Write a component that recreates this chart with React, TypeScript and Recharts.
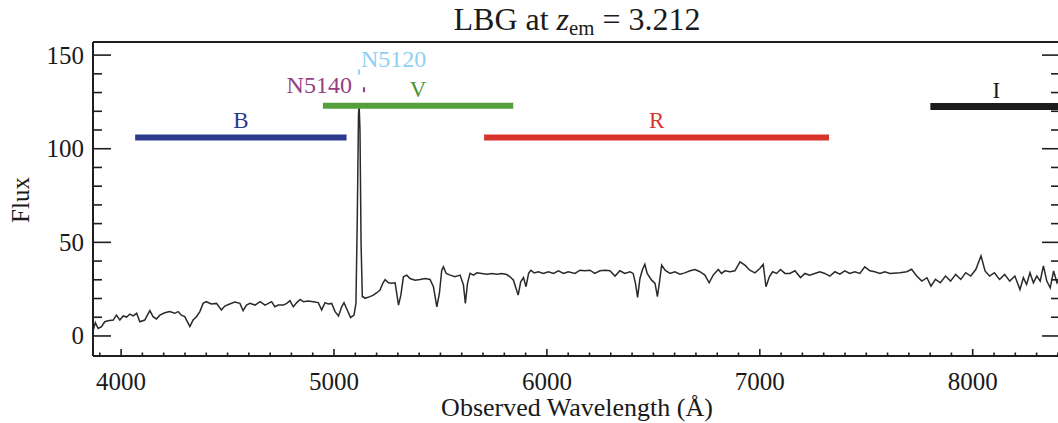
import React from "react";
import { ComposedChart, Line, XAxis, YAxis, ReferenceLine } from "recharts";

// ── Data ─────────────────────────────────────────────────────────────────────

// observed wavelength (Å) and flux of the LBG spectrum
const wavelength = [
  3869, 3879, 3892, 3908, 3923, 3939, 3963, 3978, 3994, 4010, 4026, 4041, 4057, 4073, 4088,
  4111, 4135, 4150, 4166, 4182, 4205, 4228, 4252, 4268, 4283, 4299, 4323, 4338, 4354, 4370,
  4385, 4400, 4424, 4448, 4471, 4487, 4510, 4534, 4558, 4573, 4589, 4605, 4629, 4653, 4676,
  4692, 4707, 4722, 4738, 4762, 4778, 4793, 4809, 4825, 4841, 4856, 4879, 4903, 4926, 4942,
  4958, 4973, 4989, 5005, 5021, 5036, 5047, 5062, 5078, 5094, 5103, 5109, 5115, 5118, 5122,
  5127, 5133, 5138, 5145, 5169, 5185, 5201, 5216, 5229, 5240, 5256, 5271, 5287, 5303, 5314,
  5326, 5342, 5357, 5381, 5404, 5428, 5451, 5467, 5483, 5495, 5506, 5514, 5527, 5546, 5568,
  5592, 5608, 5617, 5627, 5639, 5655, 5671, 5694, 5718, 5741, 5765, 5788, 5811, 5827, 5843,
  5855, 5865, 5877, 5890, 5902, 5914, 5925, 5940, 5960, 5983, 6007, 6031, 6054, 6078, 6100,
  6132, 6155, 6179, 6202, 6225, 6249, 6273, 6296, 6320, 6343, 6366, 6390, 6405, 6416, 6426,
  6437, 6449, 6460, 6471, 6492, 6508, 6519, 6528, 6539, 6555, 6578, 6601, 6625, 6648, 6672,
  6696, 6719, 6742, 6762, 6781, 6805, 6820, 6836, 6860, 6883, 6907, 6930, 6953, 6977, 7000,
  7016, 7029, 7045, 7060, 7079, 7097, 7118, 7141, 7165, 7191, 7212, 7234, 7258, 7282, 7305,
  7329, 7353, 7376, 7399, 7423, 7446, 7470, 7493, 7517, 7540, 7564, 7587, 7611, 7658, 7690,
  7713, 7737, 7761, 7785, 7804, 7825, 7848, 7872, 7896, 7920, 7944, 7967, 7991, 8015, 8039,
  8058, 8079, 8102, 8126, 8150, 8174, 8198, 8222, 8238, 8253, 8269, 8285, 8301, 8317, 8332,
  8348, 8364, 8380, 8396, 8410,
];

const flux = [
  3.0, 7.1, 4.0, 5.0, 7.6, 8.1, 8.5, 11.1, 8.5, 10.7, 10.1, 11.7, 10.7, 12.1, 7.6,
  8.5, 13.5, 10.3, 9.1, 11.1, 12.4, 13.0, 12.1, 13.0, 11.1, 10.3, 5.0, 8.5, 10.3, 13.0,
  17.4, 18.3, 17.1, 17.4, 13.9, 16.0, 17.1, 18.1, 17.4, 13.5, 16.5, 17.4, 16.5, 18.3, 16.5,
  17.4, 18.3, 15.6, 16.5, 16.5, 17.4, 18.8, 15.6, 17.8, 19.5, 18.3, 18.7, 18.3, 17.8, 13.9,
  17.8, 17.1, 17.4, 13.0, 10.7, 15.6, 17.8, 13.9, 9.8, 11.2, 17.4, 60, 118, 123, 110,
  50, 21, 21, 20.1, 21, 21.8, 23.1, 24.5, 28.1, 30.1, 28.4, 28.1, 28.4, 16.5, 21.8,
  31.6, 32.5, 30.7, 29.8, 30.2, 30.7, 30.2, 26.3, 15.6, 22.7, 35.1, 36.9, 33.4, 32.5, 31.6,
  32.5, 27.2, 17.4, 28.1, 33.4, 32.5, 33.7, 33.4, 33.0, 33.4, 33.0, 33.4, 32.8, 31.6, 29.8,
  25.4, 21.8, 28.9, 31.2, 26.3, 33.4, 35.1, 33.7, 34.3, 33.4, 34.3, 33.4, 34.8, 33.4, 34.3,
  33.4, 35.1, 34.8, 35.1, 33.4, 34.8, 35.1, 34.8, 32.0, 34.8, 33.4, 34.3, 33.4, 28.1, 20.6,
  30.7, 35.5, 38.3, 33.4, 29.8, 28.1, 21.0, 28.1, 37.8, 35.1, 33.4, 34.3, 33.0, 33.7, 34.8,
  35.5, 34.3, 32.5, 28.4, 32.5, 35.5, 33.4, 34.8, 34.3, 34.8, 39.6, 37.8, 35.1, 33.7, 36.0,
  38.3, 26.3, 31.6, 34.3, 33.4, 35.5, 33.4, 33.4, 34.8, 31.2, 33.4, 32.5, 33.4, 34.3, 33.4,
  32.0, 34.3, 33.0, 34.8, 33.4, 34.3, 33.4, 36.9, 34.8, 34.3, 33.4, 34.3, 33.4, 33.8, 34.3,
  35.6, 32.0, 29.3, 31.1, 26.6, 30.2, 28.4, 32.0, 29.3, 32.9, 30.2, 33.8, 32.0, 35.6, 42.8,
  34.7, 32.0, 33.8, 30.2, 32.9, 29.3, 32.0, 24.8, 31.1, 27.5, 33.8, 28.4, 32.0, 29.3, 37.4,
  29.3, 25.7, 34.7, 28.4, 31.0,
];

// filter bandpasses drawn above the spectrum
const filterNames = ["B", "V", "R", "I", "N5140", "N5120"];
const filterStart = [4066, 4948, 5705, 7801, 5136, 5113];
const filterEnd = [5059, 5842, 7325, 8420, 5146, 5122];
const filterLevel = [106, 123, 106, 122.5, 131.5, 141];

const xMajorTicks = [4000, 5000, 6000, 7000, 8000];
const yMajorTicks = [0, 50, 100, 150];

// ── Styles ───────────────────────────────────────────────────────────────────

const FONT = "'Liberation Serif', 'Times New Roman', Times, serif";
const AXIS = "#1e1e1e";
const X_DOMAIN: [number, number] = [3868, 8410];
const Y_DOMAIN: [number, number] = [-10.7, 157];

const filterStyle: Record<string, { color: string; text: string; width: number; label: string }> = {
  B: { color: "#2c3a8e", text: "#2c3a8e", width: 6, label: "top" },
  V: { color: "#55a03c", text: "#4f8f2c", width: 6, label: "top" },
  R: { color: "#d8342b", text: "#d8342b", width: 6, label: "top" },
  I: { color: "#1c1c1c", text: "#1c1c1c", width: 7, label: "top" },
  N5140: { color: "#96407f", text: "#96407f", width: 5, label: "left" },
  N5120: { color: "#8fd0f2", text: "#8fd0f2", width: 5, label: "right" },
};

const data = wavelength.map((w, i) => ({ w, f: flux[i] }));
const xTicks = Array.from({ length: 46 }, (_, i) => 3900 + i * 100);
const yTicks = Array.from({ length: 16 }, (_, i) => i * 10);

// ── Ticks (IDL style, pointing inward) ───────────────────────────────────────

function xTick(side: "bottom" | "top") {
  return (p: any) => {
    const v = p.payload.value;
    const major = xMajorTicks.includes(v);
    const len = major ? 7 : 3.5;
    const d = side === "bottom" ? -1 : 1;
    return (
      <g>
        <line x1={p.x} x2={p.x} y1={p.y} y2={p.y + d * len} stroke={AXIS} strokeWidth={1.6} />
        {major && side === "bottom" && (
          <text x={p.x} y={p.y + 34} textAnchor="middle" fontFamily={FONT} fontSize={25} fill="#1a1a1a">
            {v}
          </text>
        )}
      </g>
    );
  };
}

function yTick(side: "left" | "right") {
  return (p: any) => {
    const v = p.payload.value;
    const major = yMajorTicks.includes(v);
    const len = major ? 18 : 9;
    const d = side === "left" ? 1 : -1;
    return (
      <g>
        <line x1={p.x} x2={p.x + d * len} y1={p.y} y2={p.y} stroke={AXIS} strokeWidth={1.6} />
        {major && side === "left" && (
          <text x={p.x - 9} y={p.y + 8.5} textAnchor="end" fontFamily={FONT} fontSize={25} fill="#1a1a1a">
            {v}
          </text>
        )}
      </g>
    );
  };
}

function filterLabel(name: string) {
  const s = filterStyle[name];
  return (p: any) => {
    const vb = p.viewBox;
    if (!vb) return null;
    const cy = vb.y + vb.height / 2;
    let x = vb.x + vb.width / 2;
    let y = cy - 9;
    let anchor = "middle";
    if (s.label === "left") {
      x = vb.x - 11;
      y = cy + 3.5;
      anchor = "end";
    } else if (s.label === "right") {
      x = vb.x + vb.width / 2 + 2;
      y = cy - 5;
      anchor = "start";
    }
    return (
      <text x={x} y={y} textAnchor={anchor} fontFamily={FONT} fontSize={s.label === "top" ? 23 : 24} fill={s.text}>
        {name}
      </text>
    );
  };
}

// ── Chart ────────────────────────────────────────────────────────────────────

export default function App() {
  return (
    <div
      style={{
        position: "absolute",
        left: 0,
        top: 0,
        width: 1058,
        height: 423,
        overflow: "hidden",
        background: "#fff",
        fontFamily: FONT,
        color: "#1a1a1a",
      }}
    >
      <ComposedChart width={1062} height={423} data={data} margin={{ top: 0, right: 0, bottom: 0, left: 0 }}>
        <XAxis
          xAxisId="b"
          dataKey="w"
          type="number"
          domain={X_DOMAIN}
          allowDataOverflow
          ticks={xTicks}
          interval={0}
          tick={xTick("bottom")}
          tickSize={0}
          tickMargin={0}
          tickLine={false}
          axisLine={{ stroke: AXIS, strokeWidth: 2 }}
          height={67}
        />
        <XAxis
          xAxisId="t"
          orientation="top"
          type="number"
          domain={X_DOMAIN}
          allowDataOverflow
          ticks={xTicks}
          interval={0}
          tick={xTick("top")}
          tickSize={0}
          tickMargin={0}
          tickLine={false}
          axisLine={{ stroke: AXIS, strokeWidth: 2 }}
          height={42}
        />
        <YAxis
          yAxisId="l"
          type="number"
          domain={Y_DOMAIN}
          allowDataOverflow
          ticks={yTicks}
          interval={0}
          tick={yTick("left")}
          tickSize={0}
          tickMargin={0}
          tickLine={false}
          axisLine={{ stroke: AXIS, strokeWidth: 2 }}
          width={93}
        />
        <YAxis
          yAxisId="r"
          orientation="right"
          type="number"
          domain={Y_DOMAIN}
          allowDataOverflow
          ticks={yTicks}
          interval={0}
          tick={yTick("right")}
          tickSize={0}
          tickMargin={0}
          tickLine={false}
          axisLine={{ stroke: AXIS, strokeWidth: 2 }}
          width={2}
        />
        <Line
          xAxisId="b"
          yAxisId="l"
          dataKey="f"
          type="linear"
          stroke="#2a2a2a"
          strokeWidth={1.5}
          dot={false}
          isAnimationActive={false}
        />
        {filterNames.map((name, i) => (
          <ReferenceLine
            key={name}
            xAxisId="b"
            yAxisId="l"
            ifOverflow="hidden"
            segment={[
              { x: filterStart[i], y: filterLevel[i] },
              { x: filterEnd[i], y: filterLevel[i] },
            ]}
            stroke={filterStyle[name].color}
            strokeWidth={filterStyle[name].width}
            label={filterLabel(name)}
          />
        ))}
      </ComposedChart>

      {/* title */}
      <div
        style={{
          position: "absolute",
          left: 577,
          top: 3,
          transform: "translateX(-50%)",
          whiteSpace: "nowrap",
          fontSize: 32,
          lineHeight: "32px",
        }}
      >
        LBG at <i>z</i>
        <span style={{ fontSize: "0.65em", position: "relative", top: "0.24em" }}>em</span> = 3.212
      </div>

      {/* x axis label */}
      <div
        style={{
          position: "absolute",
          left: 577,
          top: 395,
          transform: "translateX(-50%)",
          whiteSpace: "nowrap",
          fontSize: 26,
          lineHeight: "26px",
        }}
      >
        Observed Wavelength (Å)
      </div>

      {/* y axis label */}
      <div
        style={{
          position: "absolute",
          left: 20,
          top: 200,
          transform: "translate(-50%, -50%) rotate(-90deg)",
          whiteSpace: "nowrap",
          fontSize: 25,
          lineHeight: "25px",
        }}
      >
        Flux
      </div>
    </div>
  );
}
